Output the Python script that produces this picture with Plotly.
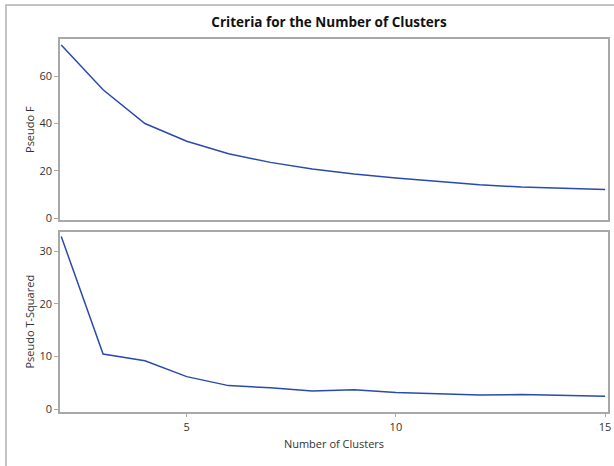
import plotly.graph_objects as go

clusters = [2, 3, 4, 5, 6, 7, 8, 9, 10, 11, 12, 13, 14, 15]
pseudo_f = [73.1, 54.2, 40.0, 32.5, 27.2, 23.6, 20.8, 18.7, 17.0, 15.5, 14.2, 13.2, 12.6, 12.2]
pseudo_t2 = [32.8, 10.5, 9.2, 6.2, 4.5, 4.1, 3.5, 3.7, 3.2, 3.0, 2.7, 2.8, 2.7, 2.5]

title_text = "Criteria for the Number of Clusters"
x_title = "Number of Clusters"
y1_title = "Pseudo F"
y2_title = "Pseudo T-Squared"

W, H = 614, 466
line_color = "#2a4aad"
frame_color = "#a8a8a8"
font_family = "Open Sans, Liberation Sans, Arial, sans-serif"
tick_font = dict(family=font_family, size=11, color="#333333")
label_font = dict(family=font_family, size=11, color="#333333")

fig = go.Figure()
fig.add_trace(go.Scatter(x=clusters, y=pseudo_f, mode="lines",
                         line=dict(color=line_color, width=1.5),
                         xaxis="x", yaxis="y", showlegend=False))
fig.add_trace(go.Scatter(x=clusters, y=pseudo_t2, mode="lines",
                         line=dict(color=line_color, width=1.5),
                         xaxis="x2", yaxis="y2", showlegend=False))

def py(p):
    return 1 - p / H

xdom = [60 / W, 608 / W]
xr = [1.97, 15.07]
axis_common = dict(showline=True, linecolor=frame_color, linewidth=1.5, mirror=True,
                   showgrid=False, zeroline=False, ticks="outside", ticklen=4,
                   tickcolor=frame_color, tickwidth=1, tickfont=tick_font,
                   automargin=False)
xaxis1_opts = dict(axis_common)
xaxis1_opts["ticks"] = ""

fig.update_layout(
    width=W, height=H,
    margin=dict(l=0, r=0, t=0, b=0, autoexpand=False),
    paper_bgcolor="white", plot_bgcolor="white",
    font=dict(family=font_family),
    title=dict(text="<b>" + title_text + "</b>", x=329 / W, xanchor="center",
               y=py(22), yanchor="middle",
               font=dict(family=font_family, size=13.5, color="#111111")),
    xaxis=dict(domain=xdom, range=xr, anchor="y", showticklabels=False, **xaxis1_opts),
    yaxis=dict(domain=[py(220), py(39.3)], range=[-0.7, 75.5], anchor="x",
               tickvals=[0, 20, 40, 60],
               title=dict(text=y1_title, font=label_font, standoff=3),
               **axis_common),
    xaxis2=dict(domain=xdom, range=xr, anchor="y2", tickvals=[5, 10, 15],
                title=dict(text=x_title, font=label_font, standoff=8),
                **axis_common),
    yaxis2=dict(domain=[py(411.7), py(231.7)], range=[-0.45, 33.7], anchor="x2",
                tickvals=[0, 10, 20, 30],
                title=dict(text=y2_title, font=label_font, standoff=3),
                **axis_common),
    shapes=[dict(type="rect", xref="paper", yref="paper",
                 x0=6 / W, x1=1.01, y0=-0.02, y1=py(5),
                 line=dict(color="#b0b0b0", width=1.5), fillcolor="rgba(0,0,0,0)", layer="below")],
)

fig.write_html("out.html", config={"displayModeBar": False},
               post_script="document.body.style.margin='0';document.body.style.overflow='hidden';")
